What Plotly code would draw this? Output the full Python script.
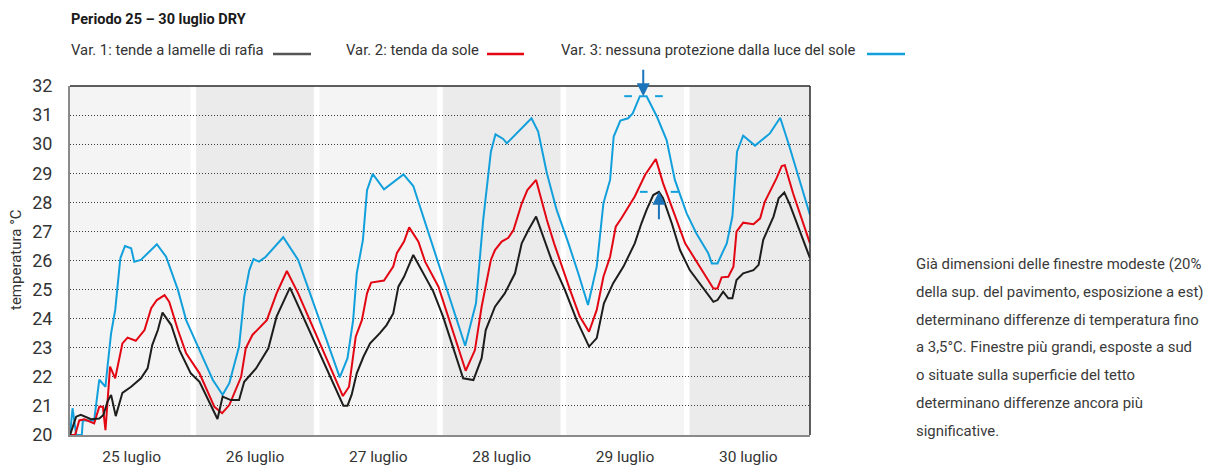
import plotly.graph_objects as go

# Hourly-ish readings, 25-30 July (hour 0 = 25 July 00:00)
hours_var1 = [0, 1.2, 2.1, 4.1, 5.7, 6.5, 7.3, 8.0, 8.9, 10.2, 11.9, 13.8, 15.1, 16.0, 17.1, 18.0,
              19.7, 21.3, 23.5, 25.2, 28.7, 29.7, 31.3, 32.9, 33.9, 36.2, 38.6, 40.2, 42.8, 44.8,
              53.2, 54.0, 54.8, 55.8, 57.1, 58.4, 60.3, 61.6, 62.9, 63.9, 65.0, 66.8, 70.7, 72.6,
              76.5, 78.5, 80.1, 80.9, 82.7, 84.6, 86.6, 87.9, 89.2, 90.7, 92.1, 93.7, 96.3, 98.6,
              101.0, 102.5, 103.9, 105.7, 107.7, 109.9, 111.2, 112.2, 113.5, 114.6, 115.4, 117.1,
              118.7, 120.6, 125.2, 126.0, 127.1, 128.1, 128.9, 129.7, 131.0, 133.0, 134.0, 134.9,
              136.9, 137.9, 139.0, 140.1, 144.0]
temp_var1 = [20.0, 20.63, 20.69, 20.54, 20.57, 20.69, 21.15, 21.38, 20.65, 21.45, 21.66, 21.95, 22.29,
             23.09, 23.61, 24.21, 23.78, 22.92, 22.12, 21.83, 20.55, 21.32, 21.2, 21.2, 21.83, 22.29,
             22.98, 24.07, 25.07, 24.3, 21.01, 21.01, 21.38, 22.12, 22.69, 23.15, 23.5, 23.78, 24.18,
             25.1, 25.44, 26.19, 24.93, 24.07, 21.95, 21.89, 22.64, 23.61, 24.41, 24.87, 25.56, 26.59,
             27.05, 27.51, 26.82, 26.02, 24.99, 23.95, 23.04, 23.33, 24.53, 25.22, 25.79, 26.59, 27.28,
             27.74, 28.25, 28.36, 28.14, 27.28, 26.36, 25.67, 24.58, 24.64, 24.93, 24.7, 24.7, 25.33,
             25.56, 25.67, 25.85, 26.71, 27.51, 28.14, 28.34, 27.91, 26.08]

hours_var2 = [0, 1.0, 1.8, 2.8, 4.7, 5.7, 6.4, 6.9, 7.8, 8.8, 10.2, 11.2, 12.8, 14.5, 15.8, 16.9, 18.4,
              19.3, 21.0, 22.6, 25.2, 28.1, 29.6, 31.0, 33.3, 34.2, 35.5, 38.3, 40.2, 42.2, 44.4,
              53.1, 54.3, 55.6, 56.8, 57.8, 58.6, 61.1, 62.9, 63.6, 65.0, 66.0, 67.8, 69.1, 71.7,
              77.0, 78.8, 80.1, 81.9, 82.7, 84.0, 85.3, 86.3, 87.9, 89.0, 90.7, 92.8, 94.2, 97.3,
              99.2, 101.0, 102.5, 103.8, 105.1, 106.2, 107.3, 109.9, 111.9, 114.0, 115.4, 119.7,
              121.9, 125.2, 126.0, 126.8, 128.1, 129.1, 129.7, 131.0, 133.0, 134.3, 135.2, 137.5,
              138.5, 139.1, 140.7, 144.0]
temp_var2 = [20.0, 20.0, 20.5, 20.54, 20.4, 20.97, 20.97, 20.17, 22.35, 21.95, 23.15, 23.35, 23.24,
             23.61, 24.36, 24.64, 24.81, 24.58, 23.61, 22.81, 22.12, 20.97, 20.75, 21.03, 22.0, 22.98,
             23.44, 23.95, 24.87, 25.64, 24.87, 21.34, 21.66, 23.38, 23.95, 24.87, 25.24, 25.31, 25.79,
             26.25, 26.65, 27.14, 26.65, 25.96, 25.1, 22.21, 22.92, 24.41, 26.02, 26.36, 26.65, 26.78,
             27.05, 27.96, 28.42, 28.77, 27.39, 26.59, 24.99, 24.07, 23.55, 24.3, 25.44, 26.13, 27.16,
             27.45, 28.2, 28.94, 29.49, 28.66, 26.59, 25.96, 25.04, 25.04, 25.42, 25.44, 25.79, 26.99,
             27.3, 27.25, 27.45, 28.02, 28.83, 29.25, 29.28, 28.31, 26.59]

hours_var3 = [0, 0.5, 1.2, 2.3, 2.5, 4.7, 5.7, 6.9, 7.3, 8.0, 8.8, 9.8, 10.7, 11.9, 12.5, 13.8, 16.9,
              18.7, 21.0, 22.6, 25.2, 27.8, 29.7, 31.0, 32.9, 33.9, 34.9, 35.7, 36.8, 38.1, 41.5,
              44.4, 52.5, 54.0, 55.1, 55.8, 57.0, 57.8, 58.9, 61.1, 64.9, 66.8, 76.9, 79.0, 80.4,
              81.9, 82.8, 84.3, 85.0, 89.8, 91.1, 92.8, 94.7, 97.0, 98.9, 100.8, 102.5, 103.8, 105.1,
              105.8, 107.1, 108.6, 109.5, 110.9, 112.2, 114.2, 116.1, 117.7, 120.0, 121.9, 124.2,
              124.9, 126.0, 127.8, 128.9, 129.8, 131.0, 133.3, 136.2, 138.2, 139.8, 144.0]
temp_var3 = [20.0, 20.92, 20.0, 20.0, 20.5, 20.5, 21.9, 21.66, 22.35, 23.5, 24.3, 26.08, 26.5, 26.42,
             25.96, 26.02, 26.56, 26.13, 24.99, 23.95, 22.92, 21.89, 21.38, 21.78, 23.04, 24.76, 25.67,
             26.05, 25.96, 26.13, 26.8, 26.02, 21.98, 22.64, 23.95, 25.56, 26.71, 28.42, 28.98, 28.45,
             28.96, 28.56, 23.07, 24.53, 27.39, 29.74, 30.34, 30.18, 30.03, 30.89, 30.43, 29.0, 27.74,
             26.59, 25.56, 24.47, 25.79, 27.97, 28.77, 30.26, 30.81, 30.89, 31.06, 31.65, 31.65, 30.95,
             30.14, 28.77, 27.62, 26.93, 26.25, 25.9, 25.9, 26.59, 27.51, 29.74, 30.29, 29.95, 30.37,
             30.91, 30.03, 27.57]

day_labels = ["25 luglio", "26 luglio", "27 luglio", "28 luglio", "29 luglio", "30 luglio"]
series_names = ["Var. 1: tende a lamelle di rafia", "Var. 2: tenda da sole",
                "Var. 3: nessuna protezione dalla luce del sole"]
title_text = "Periodo 25 – 30 luglio DRY"
note_lines = [
    "Già dimensioni delle finestre modeste (20%",
    "della sup. del pavimento, esposizione a est)",
    "determinano differenze di temperatura fino",
    "a 3,5°C. Finestre più grandi, esposte a sud",
    "o situate sulla superficie del tetto",
    "determinano differenze ancora più",
    "significative.",
]
highlight_day = 4  # 29 luglio

FONT = "Roboto, sans-serif"
C1, C2, C3 = "#1d1d1b", "#e30613", "#12a0dc"
ARROW = "#1b74ba"

W, H = 1205, 466
L, R, T, B = 70, 395, 86, 31
PW, PH = W - L - R, H - T - B


def px(xp):
    return (xp - L) / PW


def py(yp):
    return (H - B - yp) / PH


fig = go.Figure()
for hrs, vals, col, name in [(hours_var3, temp_var3, C3, series_names[2]),
                             (hours_var2, temp_var2, C2, series_names[1]),
                             (hours_var1, temp_var1, C1, series_names[0])]:
    fig.add_trace(go.Scatter(x=hrs, y=vals, mode="lines", name=name,
                             line=dict(color=col, width=2)))

shapes = []
# alternating day bands with a thin white gap between days
for d in range(len(day_labels)):
    x0 = d * 24 + (0.55 if d > 0 else 0)
    x1 = (d + 1) * 24 - (0.55 if d < len(day_labels) - 1 else 0)
    shapes.append(dict(type="rect", xref="x", yref="paper", x0=x0, x1=x1, y0=0, y1=1,
                       fillcolor="#f4f4f4" if d % 2 == 0 else "#ebebeb",
                       line=dict(width=0), layer="below"))

# frame: top and right edges
shapes.append(dict(type="line", xref="paper", yref="paper", x0=0, x1=1, y0=1, y1=1,
                   line=dict(color="#2a2a2a", width=1.5)))
shapes.append(dict(type="line", xref="paper", yref="paper", x0=1, x1=1, y0=0, y1=1,
                   line=dict(color="#2a2a2a", width=1.5)))


def day_peak(hrs, vals, d):
    pts = [(h, v) for h, v in zip(hrs, vals) if d * 24 <= h <= (d + 1) * 24]
    top = max(v for _, v in pts)
    at = [h for h, v in pts if v == top]
    return sum(at) / len(at), top


peak3 = day_peak(hours_var3, temp_var3, highlight_day)
peak1 = day_peak(hours_var1, temp_var1, highlight_day)

# short dashes flanking the marked peaks
for (ph, pv) in (peak3, peak1):
    for a, b in ((-3.7, -2.2), (2.3, 3.8)):
        shapes.append(dict(type="line", xref="x", yref="y", x0=ph + a, x1=ph + b, y0=pv, y1=pv,
                           line=dict(color=C3, width=2)))

annotations = []
annotations.append(dict(x=peak3[0], y=peak3[1], xref="x", yref="y", text="", showarrow=True,
                        ax=0, ay=-28, arrowhead=2, arrowsize=1.3, arrowwidth=2,
                        arrowcolor=ARROW, standoff=0))
annotations.append(dict(x=peak1[0], y=peak1[1], xref="x", yref="y", text="", showarrow=True,
                        ax=0, ay=29, arrowhead=2, arrowsize=1.3, arrowwidth=2,
                        arrowcolor=ARROW, standoff=0))

# title and legend row
annotations.append(dict(x=px(69), y=py(20), xref="paper", yref="paper", text=title_text,
                        showarrow=False, xanchor="left", yanchor="middle",
                        font=dict(family=FONT, size=14.5, color="#1a1a1a", weight="bold")))
legend_spec = [(series_names[0], 69, 273, 311, "#555555"),
               (series_names[1], 344, 487, 524, C2),
               (series_names[2], 559, 867, 905, C3)]
for name, tx, l0, l1, col in legend_spec:
    annotations.append(dict(x=px(tx), y=py(50), xref="paper", yref="paper", text=name,
                            showarrow=False, xanchor="left", yanchor="middle",
                            font=dict(family=FONT, size=14.8, color="#333333")))
    shapes.append(dict(type="line", xref="paper", yref="paper", x0=px(l0), x1=px(l1),
                       y0=py(54), y1=py(54), line=dict(color=col, width=2.5)))

# y-axis title
annotations.append(dict(x=px(16), y=py(260), xref="paper", yref="paper", text="temperatura °C",
                        showarrow=False, textangle=-90, xanchor="center", yanchor="middle",
                        font=dict(family=FONT, size=15, color="#333333")))

# side note
for i, line in enumerate(note_lines):
    annotations.append(dict(x=px(914), y=py(264 + i * 27.8), xref="paper", yref="paper",
                            text=line, showarrow=False, xanchor="left", yanchor="middle",
                            font=dict(family=FONT, size=14.9, color="#3a3a3a")))

fig.update_layout(
    width=W, height=H,
    margin=dict(l=L, r=R, t=T, b=B, pad=0, autoexpand=False),
    plot_bgcolor="white", paper_bgcolor="white",
    showlegend=False,
    shapes=shapes, annotations=annotations,
    font=dict(family=FONT, color="#333333"),
    xaxis=dict(range=[0, 144], tickmode="array", tickvals=[d * 24 + 12 for d in range(6)],
               ticktext=day_labels, showgrid=False, zeroline=False, showline=True,
               linecolor="#8a8a8a", linewidth=2, ticks="", ticklabelstandoff=6,
               automargin=False,
               tickfont=dict(family=FONT, size=15.5, color="#333333"), fixedrange=True),
    yaxis=dict(range=[20, 32], dtick=1, showgrid=True, gridcolor="#3c3c3c", griddash="1px,2px",
               gridwidth=1, zeroline=False, showline=True, linecolor="#8a8a8a", linewidth=2,
               ticks="", ticklabelstandoff=12, automargin=False,
               tickfont=dict(family=FONT, size=18, color="#333333"), fixedrange=True),
)

fig.write_html("out.html")
